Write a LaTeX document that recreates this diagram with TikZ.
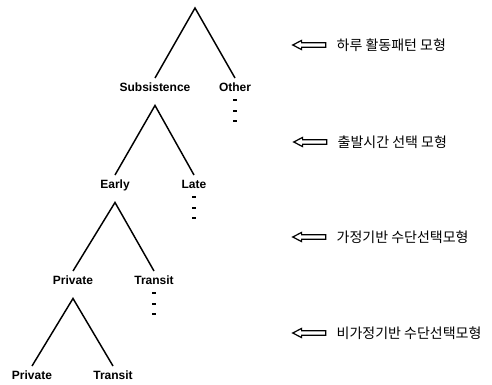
\documentclass[tikz,border=0pt]{standalone}
\usepackage{fontspec}
\setmainfont{Liberation Sans}
\newfontfamily\kor{Noto Sans CJK KR}
\usetikzlibrary{shapes.arrows,positioning}

\begin{document}
\begin{tikzpicture}[x=0.75pt,y=-0.75pt,
  lbl/.style={font=\fontsize{9}{11}\selectfont\bfseries,inner sep=0pt,outer sep=3.4pt,text height=6.5pt,text depth=1.7pt},
  branch/.style={line width=1.1pt},
  tick/.style={line width=1.5pt},
  hollow/.style={draw,single arrow,shape border rotate=180,minimum height=24.75pt,minimum width=6pt,inner sep=1.3pt,single arrow head extend=1.7pt,single arrow tip angle=55,line width=0.9pt},
  model/.style={font=\kor\fontsize{10.5}{12}\selectfont,inner sep=0pt}]
\useasboundingbox (0,0) rectangle (492,385);
% tree
\coordinate (root) at (195,8);
\node [lbl] (sub) at (155,88) {Subsistence};
\node [lbl] (other) at (235,88) {Other};
\node [lbl] (early) at (115,185) {Early};
\node [lbl] (late) at (194,185) {Late};
\node [lbl] (priv1) at (73,281) {Private};
\node [lbl] (trans1) at (154,281) {Transit};
\node [lbl] (priv2) at (32,376) {Private};
\node [lbl] (trans2) at (113,376) {Transit};
\coordinate (subtop) at ([yshift=-5.6pt]sub.south);
\coordinate (earlytop) at ([yshift=-5.6pt]early.south);
\coordinate (privtop) at ([yshift=-5.6pt]priv1.south);
\draw [branch] (sub.north) -- (root) -- (other.north);
\draw [branch] (early.north) -- (subtop) -- (late.north);
\draw [branch] (priv1.north) -- (earlytop) -- (trans1.north);
\draw [branch] (priv2.north) -- (privtop) -- (trans2.north);
% omitted branches
\foreach \n in {other,late,trans1}
  \foreach \d in {12,22.5,33}
    \draw [tick] ([shift={(-2,\d)}]\n.center) -- ([shift={(2,\d)}]\n.center);
% model levels
\node [hollow] (a1) at (311.5,45) {};
\node [hollow] (a2) at (312.5,142) {};
\node [hollow] (a3) at (311.5,237) {};
\node [hollow] (a4) at (311.5,333) {};
\node [model,right=7.5pt of a1] (m1) {하루 활동패턴 모형};
\node [model,right=7.5pt of a2] (m2) {출발시간 선택 모형};
\node [model,right=7.5pt of a3] (m3) {가정기반 수단선택모형};
\node [model,right=7.5pt of a4] (m4) {비가정기반 수단선택모형};
\end{tikzpicture}
\end{document}
